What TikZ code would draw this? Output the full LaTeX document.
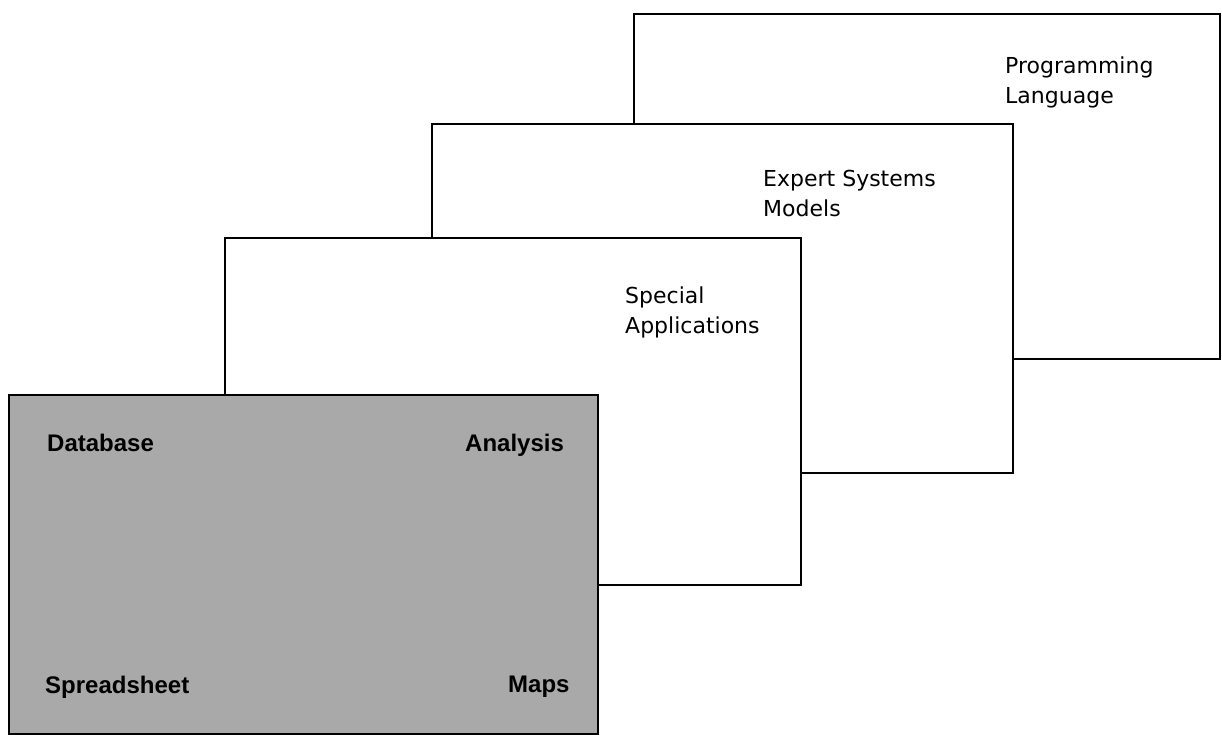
\documentclass[tikz,border=0pt]{standalone}
\usepackage{fontspec}
\setmainfont{DejaVu Sans}
\newfontfamily\shadefont{Liberation Sans}
\usepackage{tikz}
\usetikzlibrary{positioning}
\definecolor{shadeGray}{HTML}{A9A9A9}

\begin{document}
\begin{tikzpicture}[
    x=1pt, y=-1pt,
    layer/.style={
        rectangle, draw=black, line width=1.6pt, fill=white,
        inner sep=0pt, anchor=north west
    },
    toplayer/.style={layer, fill=shadeGray},
    caption/.style={
        inner sep=0pt, anchor=north west, align=left,
        font=\fontsize{22}{30}\selectfont
    },
    tool/.style={
        inner sep=0pt, anchor=north west,
        font=\shadefont\bfseries\fontsize{24}{28}\selectfont
    }
]
\useasboundingbox (0,0) rectangle (1222,735);

% stacked layers, back to front
\node[layer, minimum width=586pt, minimum height=345pt] (lang) at (633,13) {};
\node[layer, minimum width=581pt, minimum height=349pt] (expert) at (431,123) {};
\node[layer, minimum width=576pt, minimum height=347pt] (special) at (224,237) {};
\node[toplayer, minimum width=589pt, minimum height=339pt] (base) at (8,394) {};

% layer captions
\node[caption, below right=44pt and 372pt of lang.north west] (langtext) {Programming\\Language};
\node[caption, below right=47pt and 332pt of expert.north west] (experttext) {Expert Systems\\Models};
\node[caption, below right=50pt and 401pt of special.north west] (specialtext) {Special\\Applications};

% tools on the shaded layer
\node[tool, below right=40pt and 39pt of base.north west] (database) {Database};
\node[tool, below right=40pt and 457pt of base.north west] (analysis) {Analysis};
\node[tool, below right=282pt and 37pt of base.north west] (spreadsheet) {Spreadsheet};
\node[tool, below right=282pt and 500pt of base.north west] (maps) {Maps};

\end{tikzpicture}
\end{document}
